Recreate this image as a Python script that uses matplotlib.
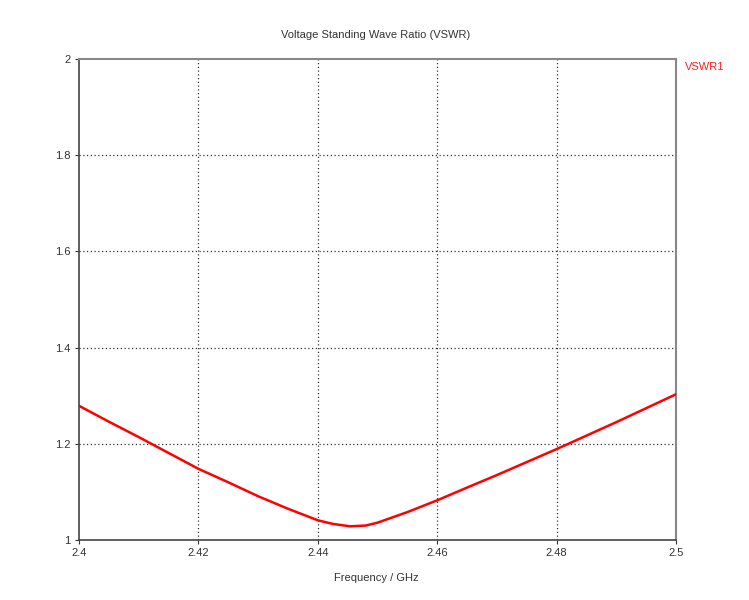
import matplotlib
matplotlib.use('Agg')
import matplotlib.pyplot as plt
import numpy as np

# values
freq = [2.400, 2.405, 2.410, 2.415, 2.420, 2.425, 2.430, 2.435, 2.440, 2.4425,
        2.4454, 2.448, 2.450, 2.455, 2.460, 2.465, 2.470, 2.475, 2.480, 2.485,
        2.490, 2.495, 2.500]
vswr = [1.279, 1.246, 1.214, 1.181, 1.148, 1.120, 1.091, 1.065, 1.041, 1.0335,
        1.0285, 1.030, 1.036, 1.058, 1.0825, 1.109, 1.135, 1.162, 1.189, 1.217,
        1.245, 1.274, 1.303]
xticks = [2.4, 2.42, 2.44, 2.46, 2.48, 2.5]
yticks = [1, 1.2, 1.4, 1.6, 1.8, 2]
ytick_labels = ['1', '1.2', '1.4', '1.6', '1.8', '2']
xtick_labels = ['2.4', '2.42', '2.44', '2.46', '2.48', '2.5']

plt.rcParams['font.family'] = ['Liberation Sans', 'DejaVu Sans']

fig = plt.figure(figsize=(7.49, 6.0), dpi=100, facecolor='white')
ax = fig.add_axes([79/749, 60/600, 597/749, 481/600])

ax.plot(freq, vswr, color='#ff0000', linewidth=1.8, zorder=3)

ax.set_xlim(2.4, 2.5)
ax.set_ylim(1, 2)
ax.set_xticks(xticks)
ax.set_xticklabels(xtick_labels)
ax.set_yticks(yticks)
ax.set_yticklabels(ytick_labels)
ax.tick_params(labelsize=8, colors='#333333', length=3, width=0.8, pad=3)
ax.grid(True, color='#333333', linestyle=(0, (1, 2)), linewidth=0.9)
# no grid lines on top of the frame
xg = ax.get_xgridlines()
yg = ax.get_ygridlines()
xg[0].set_visible(False)
xg[-1].set_visible(False)
yg[0].set_visible(False)
yg[-1].set_visible(False)

for side in ['left', 'bottom']:
    ax.spines[side].set_color('#444444')
    ax.spines[side].set_linewidth(1.2)
for side in ['top', 'right']:
    ax.spines[side].set_color('#888888')
    ax.spines[side].set_linewidth(1.5)

fig.text(376/749, 1 - 35/600, 'Voltage Standing Wave Ratio (VSWR)', ha='center', va='center',
         fontsize=8, color='#333333')
fig.text(376/749, 1 - 578/600, 'Frequency / GHz', ha='center', va='center',
         fontsize=8, color='#333333')
fig.text(685/749, 1 - 67/600, 'VSWR1', ha='left', va='center', fontsize=8, color='#ff2020')

fig.savefig('out.png', dpi=100, facecolor='white')
